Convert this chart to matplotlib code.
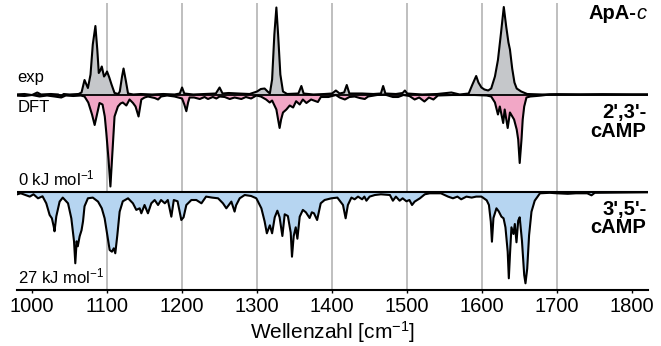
import matplotlib
matplotlib.use("Agg")
from matplotlib import pyplot as plt
import numpy as np

plt.rcParams['font.family'] = ['Liberation Sans', 'DejaVu Sans']
plt.rcParams['mathtext.fontset'] = 'custom'
plt.rcParams['mathtext.rm'] = 'Liberation Sans'
plt.rcParams['mathtext.it'] = 'Liberation Sans:italic'
plt.rcParams['mathtext.bf'] = 'Liberation Sans:bold'

# experimental spectrum (ApA-c), wavenumber / intensity (arb. units)
exp_wn = [977, 990, 1000, 1007, 1012, 1025, 1035, 1039, 1042, 1050, 1062, 1066,
          1070, 1074.5, 1078, 1081, 1084.5, 1087, 1089, 1091, 1093, 1096, 1098,
          1100, 1103, 1106, 1110, 1115, 1117, 1120, 1122, 1125, 1128, 1135, 1145,
          1160, 1175, 1190, 1197, 1200, 1203, 1215, 1230, 1245, 1250, 1254, 1262,
          1275, 1290, 1300, 1305, 1310, 1314, 1317, 1320, 1323, 1325.7, 1328,
          1331, 1334.5, 1340, 1355, 1359, 1362, 1375, 1390, 1400, 1405, 1410,
          1416, 1419.5, 1423, 1440, 1455, 1465, 1468, 1471, 1485, 1494, 1497,
          1500, 1520, 1540, 1559, 1570, 1582, 1587, 1592, 1595, 1599, 1603, 1608,
          1612, 1617, 1621, 1625, 1628.8, 1632, 1635, 1637, 1640, 1643, 1646,
          1652, 1660, 1680, 1700, 1730, 1760, 1800, 1822]
exp_int = [0, 0.5, -0.5, 2, 0, 0.5, 0, -2, 0.5, 0, 0.5, 2,
           14.5, 6.5, 20, 50, 68.5, 45, 21.5, 24, 28, 18, 20,
           23, 17, 10, 1.5, 0.5, 3, 18, 26, 14, 1, 0, 0.5,
           0, 0.5, 0, 1, 7, 1, 0, 0.5, 1, 7, 1, 1.5,
           1, 0.5, 3, 5.5, 6, 3, 1, 15, 60, 87, 60,
           20, 3, 0.5, 1, 8.5, 1, 0, 0.5, 1, 4, 1,
           2, 9.5, 1, 1, 0.5, 1, 8.5, 1, 0.5, 1.5, 4,
           1, 0, 0.5, 2, 0, 1, 10, 18.5, 12, 7, 5, 4,
           6, 18, 34.5, 61, 87.5, 68, 52, 45, 26, 12, 6,
           3, 0.5, 0, 0.3, 0, 0.3, 0, 0]

# DFT 2',3'-cAMP (0 kJ/mol), intensity plotted downwards
d23_wn = [977, 990, 1000, 1010, 1020, 1030, 1039, 1045, 1055, 1065, 1070, 1075,
          1080, 1083.5, 1086, 1090, 1094, 1097, 1099, 1102, 1104.5, 1107, 1110,
          1114.5, 1118, 1121, 1125.7, 1130, 1134.6, 1138, 1142, 1145.7, 1150,
          1154.5, 1163.5, 1168, 1172, 1180, 1190, 1195, 1200, 1203, 1205.7, 1208,
          1210, 1216, 1223.5, 1230, 1234.5, 1241, 1245.7, 1250, 1256.8, 1263.5,
          1270, 1279, 1285, 1292, 1299, 1305, 1312, 1316.8, 1320, 1325.7, 1328,
          1330, 1332, 1334.5, 1339, 1343.5, 1348, 1352, 1356.8, 1361, 1365.7,
          1372, 1381, 1385, 1395, 1405, 1410, 1417, 1423, 1430, 1436.8, 1443.5,
          1448, 1460, 1470, 1481, 1488, 1495, 1503, 1510, 1516, 1523, 1529, 1535,
          1541, 1560, 1590, 1606, 1612, 1617, 1621, 1623.5, 1628, 1630, 1634,
          1637, 1642.5, 1646, 1648, 1650, 1652.4, 1654, 1656, 1659, 1664, 1672,
          1679, 1690, 1822]
d23_int = [1, 1.5, 0.5, 2, 1, 2, 3, 1, 1.5, 1, 2, 8,
           20, 30.5, 22, 8.5, 10, 22, 38, 65, 92, 60, 22,
           12, 9, 8, 11, 5, 8.5, 12, 22, 5, 3,
           2, 3.5, 5, 2, 1, 2, 3, 4, 10, 16.7, 8,
           3, 3, 4.5, 2.5, 4.5, 2.5, 4, 2, 2.5, 4.5,
           3, 4.5, 2.5, 4, 1, 2, 5, 8, 6, 15, 25,
           33.5, 25, 18, 15, 11, 13, 6.7, 10, 5, 8.5,
           5, 7.5, 2.5, 2.5, 0.5, 3, 5, 2.5, 2, 3.5, 4.5,
           2, 0.5, 0, 2.5, 2.5, 0.5, 1.5, 5, 3, 7, 3, 5,
           1, 0.5, 0.5, 1, 2, 8, 20, 12, 28.5, 15, 33.5,
           18, 25, 35, 45, 68.5, 45, 25, 12, 3, 2, 1.5,
           1, 0, 0]

# DFT 3',5'-cAMP (27 kJ/mol), intensity plotted downwards
d35_wn = [977, 985, 997, 1002, 1008, 1014, 1019, 1023.5, 1026.5, 1029, 1030,
          1032.4, 1036.8, 1041, 1048, 1052.4, 1056, 1057.7, 1059.5, 1061, 1063.5,
          1066, 1068, 1070, 1074.5, 1081, 1088, 1093, 1096.8, 1101, 1103.5,
          1106.5, 1109, 1111, 1113.7, 1116.8, 1121, 1128, 1134.5, 1139, 1143.5,
          1145.7, 1150, 1154.5, 1159, 1163.5, 1168, 1172, 1177, 1181, 1185.7,
          1189, 1194, 1199, 1202, 1205.7, 1212.4, 1219, 1225.8, 1232, 1240, 1248,
          1254.5, 1259, 1262, 1265.7, 1270, 1272, 1276.8, 1283.5, 1292, 1299,
          1305.7, 1310, 1313, 1317, 1320, 1323.5, 1327, 1330, 1333.7, 1336.8,
          1341, 1344.8, 1346.5, 1348.8, 1351.5, 1353.7, 1356.8, 1361, 1365, 1370,
          1373, 1375.8, 1380, 1384.8, 1390, 1399, 1407, 1414.5, 1418, 1421,
          1425.7, 1430, 1434.5, 1440, 1443, 1445.7, 1450, 1457, 1465, 1477, 1481,
          1485, 1490, 1494, 1499, 1503, 1506.5, 1510, 1517, 1523.5, 1530, 1545,
          1554.5, 1561, 1567, 1572, 1579, 1586, 1592, 1599, 1606, 1609, 1611.5,
          1613, 1615, 1619, 1622, 1625.7, 1628.5, 1631, 1634, 1635.5, 1637, 1639,
          1641.7, 1643.5, 1645.7, 1648, 1650, 1653, 1656, 1657.7, 1660, 1662.5,
          1665.7, 1670, 1677, 1690, 1700, 1714, 1725, 1740, 1745.7, 1750, 1822]
d35_int = [2.7, 1, 4.3, 2, 6, 4, 11, 22.7, 26, 34.4, 39,
           24, 9.3, 5.3, 11, 26, 49, 71, 49, 54, 44,
           38, 29, 14, 6, 5.3, 9.3, 16, 26, 46, 57.7,
           59.4, 56, 61, 43, 19.4, 9, 6, 11, 17.6, 16,
           21, 12.7, 21, 11, 7.7, 12.7, 7.7, 11, 7.7, 24.4,
           7.7, 9, 27.7, 25, 12.7, 7.7, 7.7, 11, 4.3, 5.3, 6,
           11, 16, 13, 9.3, 19.3, 13, 6, 2.7, 3.7, 6,
           16, 29, 41, 33, 41, 25, 18.4, 25, 43.7, 22,
           23.7, 40.3, 64.4, 43.7, 35, 46.4, 24.4, 17.6, 20, 25.7,
           20, 21, 27.7, 11, 7.7, 6, 5.3, 12.7, 26, 12.7,
           5.3, 7, 4.3, 7, 4.3, 8.4, 4.3, 2.7, 2, 2.7, 8.4,
           4.3, 8.4, 6, 9, 7.7, 12.7, 9.3, 6, 2, 1, 1,
           4.3, 6, 4.3, 7, 4.3, 5.3, 4.3, 4.3, 8, 12.7, 29.4,
           49.4, 25.7, 16, 19, 24.4, 26, 35, 59.4, 86, 62.7, 35,
           41.7, 31.7, 50, 28.4, 25, 48.4, 82.7, 91, 76.4, 43,
           19.4, 8.4, 1, 0.5, 1, 1.5, 1, 1, 3, 0.5, 0]

offset35 = -97.8
grid_wn = [1100, 1200, 1300, 1400, 1500, 1600, 1700]
tick_wn = [1000, 1100, 1200, 1300, 1400, 1500, 1600, 1700, 1800]

fig = plt.figure(figsize=(6.61, 3.46), dpi=100)
ax = fig.add_axes([17/661, 56/346, 631/661, 287/346])

for g in grid_wn:
    ax.axvline(g, color='#b4b4b4', lw=1.2, zorder=0)

exp_wn = np.array(exp_wn); exp_int = np.array(exp_int)
d23_wn = np.array(d23_wn); d23_int = -np.array(d23_int)
d35_wn = np.array(d35_wn); d35_int = offset35 - np.array(d35_int)

ax.fill_between(exp_wn, 0, exp_int, color='#c5c7ca', lw=0, zorder=1)
ax.fill_between(d23_wn, 0, d23_int, color='#f2a7c6', lw=0, zorder=1)
ax.fill_between(d35_wn, offset35, d35_int, color='#b6d5f1', lw=0, zorder=1)

ax.axhline(0, color='black', lw=1.3, zorder=2)
ax.axhline(offset35, color='black', lw=1.5, zorder=2)
ax.plot(exp_wn, exp_int, color='black', lw=1.5, zorder=3)
ax.plot(d23_wn, d23_int, color='black', lw=1.5, zorder=3)
ax.plot(d35_wn, d35_int, color='black', lw=1.5, zorder=3)

ax.set_xlim(980, 1821)
ax.set_ylim(-195.5, 91.5)
ax.set_yticks([])
for s in ['left', 'right', 'top']:
    ax.spines[s].set_visible(False)
ax.spines['bottom'].set_linewidth(1.5)
ax.set_xticks(tick_wn)
ax.tick_params(axis='x', length=2.5, width=1, pad=2.5, labelsize=14.5)
ax.set_xlabel('Wellenzahl [cm$^{-1}$]', fontsize=15, labelpad=2)

ax.text(980.8, 12.5, 'exp', fontsize=12, va='baseline')
ax.text(980.8, -17.5, 'DFT', fontsize=12, va='baseline')
ax.text(980.8, -90.5, '0 kJ mol$^{-1}$', fontsize=12, va='baseline')
ax.text(980.8, -188.5, '27 kJ mol$^{-1}$', fontsize=12, va='baseline')

c = ax.text(1819, 75.2, 'c', fontsize=14.5, style='italic', ha='right', va='baseline')
ax.annotate('ApA-', xy=(0, 0), xycoords=c, fontsize=14.5, weight='bold',
            ha='right', va='bottom')
ax.text(1819, -23.8, "2',3'-", fontsize=14.5, weight='bold', ha='right', va='baseline')
ax.text(1819, -42.2, 'cAMP', fontsize=14.5, weight='bold', ha='right', va='baseline')
ax.text(1819, offset35 - 23, "3',5'-", fontsize=14.5, weight='bold', ha='right', va='baseline')
ax.text(1819, offset35 - 41, 'cAMP', fontsize=14.5, weight='bold', ha='right', va='baseline')

fig.savefig('out.png', dpi=100)
